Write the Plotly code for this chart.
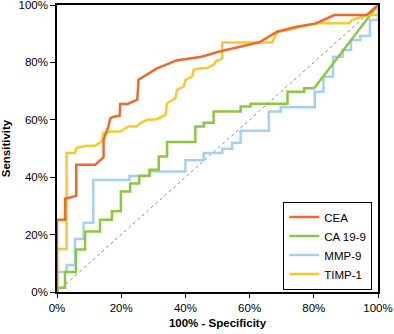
import plotly.graph_objects as go

# ---- data (percent) ----
cea_x = [0, 0, 2.5, 2.5, 6, 6, 11.9, 13.4, 14.5, 14.5, 16, 16.6, 17.4, 19.5, 19.7, 22, 25, 25.4, 31, 37.2, 45, 50, 63, 68.6, 75, 80.5, 86.4, 96.5, 100]
cea_y = [0, 25.2, 25.2, 32.5, 33.5, 44.3, 44.3, 45.7, 47, 53, 57.7, 60.5, 61, 61.4, 65.5, 65.5, 67, 74, 77.8, 80.7, 82, 83.6, 87, 90.7, 92.5, 93.5, 96.5, 96.5, 100]

ca199_x = [0, 0, 2.5, 2.5, 5.9, 5.9, 8.75, 8.75, 13.4, 13.4, 17.1, 17.1, 19.9, 19.9, 22.8, 22.8, 25.6, 25.6, 28.8, 28.8, 31.7, 31.7, 34.3, 34.3, 43.1, 43.1, 45.7, 45.7, 48.8, 48.8, 57.2, 57.2, 60.3, 60.3, 71.8, 71.8, 77, 77, 80.1, 100]
ca199_y = [0, 1.5, 1.5, 7, 7, 14.8, 14.8, 21.1, 21.1, 25.2, 25.2, 28.1, 28.1, 35, 35, 37.8, 37.8, 40.5, 40.5, 42.6, 42.6, 47.2, 47.2, 52.3, 52.3, 57.7, 57.7, 59, 59, 62.9, 62.9, 64.6, 64.6, 65.6, 65.6, 69.8, 69.8, 71, 71, 100]

mmp9_x = [0, 0, 3, 3, 5.6, 5.6, 8.3, 8.3, 11.3, 11.3, 22.6, 22.6, 29, 29, 40, 40, 45.7, 45.7, 51.5, 51.5, 54.6, 54.6, 57.2, 57.2, 66, 66, 69.7, 69.7, 80.3, 80.3, 83, 83, 86, 86, 89, 89, 91.6, 91.6, 94.5, 94.5, 97.5, 97.5, 100, 100]
mmp9_y = [0, 7, 7, 9.4, 9.4, 18.5, 18.5, 24.1, 24.1, 39, 39, 40.4, 40.4, 42, 42, 45.9, 45.9, 48.4, 48.4, 49.9, 49.9, 52, 52, 56.2, 56.2, 62.9, 62.9, 64.4, 64.4, 69.8, 69.8, 75, 75, 82, 82, 84.3, 84.3, 87.8, 87.8, 89.3, 89.3, 94.8, 94.8, 100]

timp1_x = [0, 0, 3, 3, 5.6, 6.1, 9.3, 11.9, 14, 14.5, 16.6, 19.7, 22.3, 24.9, 25.9, 28, 31.1, 33.8, 34.3, 36.9, 37.4, 39.5, 40, 42.1, 42.6, 44.7, 46.5, 48.8, 49.4, 51.5, 51.5, 63.4, 67, 68.6, 71.8, 80.6, 91, 92, 94, 96.8, 100, 100]
timp1_y = [0, 15, 15, 48.4, 48.4, 50.2, 51, 51, 52.5, 55.4, 55.9, 55.9, 57.7, 57.7, 58.8, 60, 60.2, 61.7, 65.8, 67.5, 70.4, 71.6, 73.9, 75, 77.4, 78, 78, 79.1, 80.3, 81.4, 86.9, 86.9, 86.9, 90.7, 91.3, 93.6, 93.6, 94.8, 95.4, 96.5, 96.5, 100]

ref_x = [0, 100]
ref_y = [0, 100]

tick_vals = [0, 20, 40, 60, 80, 100]
tick_text = ["0%", "20%", "40%", "60%", "80%", "100%"]

FONT = "Liberation Sans, Arial, Helvetica, sans-serif"

fig = go.Figure()
fig.add_trace(go.Scatter(x=ref_x, y=ref_y, mode="lines", showlegend=False,
                         line=dict(color="#8a8a8a", width=1, dash="3px,3px"), hoverinfo="skip"))
series = [
    ("CEA", cea_x, cea_y, "#F0692A"),
    ("CA 19-9", ca199_x, ca199_y, "#8DC63F"),
    ("MMP-9", mmp9_x, mmp9_y, "#A5D0F3"),
    ("TIMP-1", timp1_x, timp1_y, "#FBC82B"),
]
order = {"CEA": 1, "CA 19-9": 2, "MMP-9": 3, "TIMP-1": 4}
for name in ["MMP-9", "CA 19-9", "TIMP-1", "CEA"]:
    _, xs, ys, col = [s for s in series if s[0] == name][0]
    fig.add_trace(go.Scatter(x=xs, y=ys, mode="lines", name=name, legendrank=order[name],
                             line=dict(color=col, width=2.5)))

fig.update_layout(
    width=394, height=334,
    margin=dict(l=57, r=16, t=5, b=41.5, autoexpand=False),
    paper_bgcolor="white", plot_bgcolor="white",
    font=dict(family=FONT, size=11.5, color="black"),
    legend=dict(x=0.705, y=0.315, xanchor="left", yanchor="top",
                bgcolor="white", bordercolor="black", borderwidth=1,
                itemwidth=30, tracegroupgap=0, font=dict(size=11.5)),
    xaxis=dict(range=[0, 100], tickvals=tick_vals, ticktext=tick_text, automargin=False,
               ticklabeloverflow="allow",
               showgrid=False, zeroline=False, showline=True, linecolor="black",
               linewidth=1.5, mirror=True, ticks="outside", ticklen=4, tickcolor="black",
               title=dict(text="<b>100% - Specificity</b>", standoff=6, font=dict(size=11.5))),
    yaxis=dict(range=[0, 100], tickvals=tick_vals, ticktext=tick_text, automargin=False,
               ticklabeloverflow="allow",
               showgrid=False, zeroline=False, showline=True, linecolor="black",
               linewidth=1.5, mirror=True, ticks="outside", ticklen=5, tickcolor="black",
               title=dict(text="<b>Sensitivity</b>", standoff=6, font=dict(size=11.5))),
)

fig.write_html("out.html", config={"displayModeBar": False},
               post_script="document.body.style.margin='0';")
